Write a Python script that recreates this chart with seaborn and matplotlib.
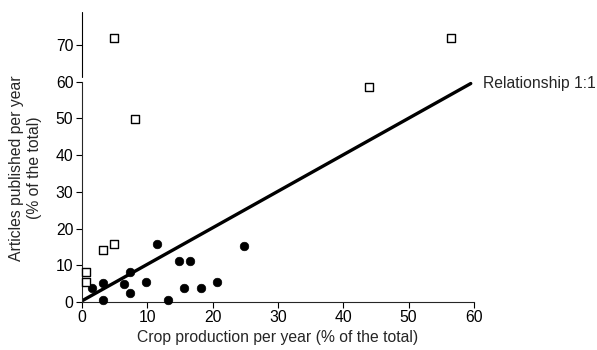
import matplotlib
matplotlib.use("Agg")
import matplotlib.pyplot as plt
import pandas as pd
import seaborn as sns

# Filled circles
circle_x = [1.5, 3.2, 3.2, 6.5, 7.3, 7.3, 9.8, 11.5, 13.2, 14.8, 15.7, 16.5, 18.2, 20.7, 24.8]
circle_y = [3.7, 5.3, 0.5, 4.8, 8.3, 2.4, 5.4, 15.7, 0.5, 11.3, 3.8, 11.3, 3.8, 5.4, 15.2]

# Open squares
square_x = [0.6, 0.6, 3.2, 4.9, 4.9, 8.1, 44.0, 56.5]
square_y = [8.3, 5.4, 14.3, 15.7, 72.0, 49.8, 58.6, 71.9]

# 1:1 reference line
line_x = [0, 59.5]
line_y = [0.3, 59.5]

sns.set_style("ticks")
plt.rcParams['font.family'] = ['Liberation Sans', 'DejaVu Sans']

fig = plt.figure(figsize=(5.97, 3.5), dpi=100)
ax = fig.add_axes([0.137, 0.137, 0.657, 0.829])

circles = pd.DataFrame({'x': circle_x, 'y': circle_y})
squares = pd.DataFrame({'x': square_x, 'y': square_y})

sns.lineplot(x=line_x, y=line_y, ax=ax, color='black', linewidth=2.4, zorder=2)
sns.scatterplot(data=circles, x='x', y='y', ax=ax, marker='o', s=38,
                color='black', edgecolor='black', zorder=3, clip_on=False)
sns.scatterplot(data=squares, x='x', y='y', ax=ax, marker='s', s=40,
                facecolor='white', edgecolor='black', linewidth=1.0, zorder=3, clip_on=False)

ax.set_xlim(0, 60)
ax.set_ylim(0, 79)
ax.set_xticks(range(0, 61, 10))
ax.set_yticks(range(0, 71, 10))
ax.tick_params(labelsize=11.3, length=4, width=0.8, colors='black', pad=2)

sns.despine(ax=ax)
ax.spines['left'].set_bounds(0, 60)
ax.spines['bottom'].set_bounds(0, 60)
# upper piece of the broken y axis
ax.axvline(0, ymin=61.3 / 79, ymax=1, color='black', linewidth=0.8, clip_on=False)

ax.set_xlabel('Crop production per year (% of the total)', fontsize=11.3, labelpad=3)
ax.set_ylabel('Articles published per year\n(% of the total)', fontsize=11.3)
ax.yaxis.set_label_coords(-0.102, 0.462)

ax.text(61.3, 59.6, 'Relationship 1:1', fontsize=11.3, va='center', ha='left', clip_on=False)

fig.savefig('out.png', dpi=100)
